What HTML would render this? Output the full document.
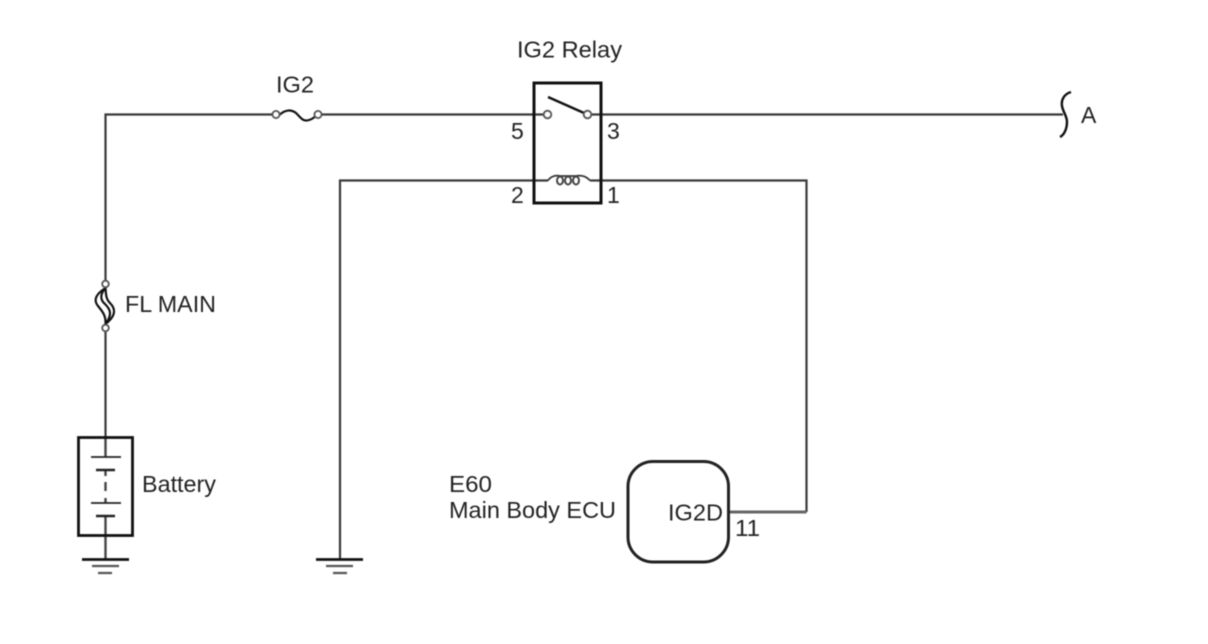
<!DOCTYPE html>
<html>
<head>
<meta charset="utf-8">
<style>
html,body{margin:0;padding:0;background:#fff;width:1208px;height:644px;overflow:hidden}
svg{display:block;filter:blur(0.45px)}
text{font-family:"Liberation Sans",sans-serif;font-size:23px;fill:#222}
</style>
</head>
<body>
<svg width="1208" height="644" viewBox="0 0 1208 644" xmlns="http://www.w3.org/2000/svg">
<g fill="none" stroke="#3a3a3a" stroke-width="2.2">
  <!-- main wires -->
  <path d="M105.5 280V114.5H273"/>
  <path d="M321 114.5H544"/>
  <path d="M591 114.5H1063"/>
  <path d="M105.5 332V437"/>
  <path d="M340 559V180.5H548"/>
  <path d="M590 180.5H806.5V512"/>
  <path d="M729 512H806.5" stroke="#666" stroke-width="3"/>
  <!-- battery inner wire -->
  <path d="M105.5 437V457M105.5 470V476M105.5 482V491M105.5 498V503M105.5 516V559" stroke="#444" stroke-width="2.4"/>
</g>
<!-- battery -->
<rect x="78.5" y="437.5" width="54" height="98" fill="none" stroke="#111" stroke-width="2.8"/>
<g stroke="#222" fill="none">
  <path d="M91 457H121" stroke-width="1.8"/>
  <path d="M96 470H115" stroke-width="2.6"/>
  <path d="M91 503H121" stroke-width="1.8"/>
  <path d="M96 516H115" stroke-width="2.6"/>
</g>
<!-- grounds -->
<g fill="none">
  <path d="M82 559.5H129M316 559.5H363" stroke="#111" stroke-width="2.8"/>
  <path d="M92 566H119M326 566H353" stroke="#555" stroke-width="2.2"/>
  <path d="M98 573H112M333 573H347" stroke="#555" stroke-width="2.2"/>
</g>
<!-- FL MAIN fuse -->
<g fill="none" stroke="#111" stroke-width="2.2">
  <path d="M105.5 288C96 294 93 300 98 306C103 312 106 316 105.5 324"/>
  <path d="M105.5 288C100 294 100 300 105 304C110 309 113 314 105.5 324"/>
  <path d="M105.5 288C106 295 106 299 110 303C116 309 116 316 105.5 324"/>
</g>
<g fill="#fff" stroke="#555" stroke-width="1.8">
  <circle cx="105.5" cy="284" r="3.3"/>
  <circle cx="105.5" cy="328" r="3.3"/>
</g>
<!-- IG2 fuse -->
<path d="M280 114.5C285 110 291 109 296 113C301 118 303 122 309 120C313 119 315 117 317 114.5" fill="none" stroke="#111" stroke-width="2.2"/>
<g fill="#fff" stroke="#555" stroke-width="1.8">
  <circle cx="276" cy="114.5" r="3.6"/>
  <circle cx="318" cy="114.5" r="3.6"/>
</g>
<!-- relay -->
<rect x="534" y="83" width="67" height="120" fill="none" stroke="#111" stroke-width="3"/>
<path d="M548 97L584 113" stroke="#111" stroke-width="2.4" fill="none"/>
<g fill="#fff" stroke="#555" stroke-width="1.8">
  <circle cx="547.5" cy="114.5" r="3.8"/>
  <circle cx="587.5" cy="114.5" r="3.8"/>
</g>
<path d="M548 180.5C551 176 556 175 560 176H576C581 175 586 176 590 180.5" fill="none" stroke="#333" stroke-width="1.8"/>
<g fill="none" stroke="#444" stroke-width="2">
  <ellipse cx="560" cy="180.5" rx="3" ry="4"/>
  <ellipse cx="568" cy="180.5" rx="3" ry="4"/>
  <ellipse cx="576" cy="180.5" rx="3" ry="4"/>
</g>
<!-- A break -->
<path d="M1071 92C1064 94 1061 100 1062 106C1063 112 1067 116 1067 122C1067 129 1064 135 1060 137" fill="none" stroke="#111" stroke-width="2.4"/>
<!-- ECU -->
<rect x="628" y="461.5" width="100.5" height="100.5" rx="25" ry="25" fill="#fff" stroke="#222" stroke-width="3"/>
<!-- labels -->
<text x="517" y="57.500" textLength="105" lengthAdjust="spacingAndGlyphs">IG2 Relay</text>
<text x="276" y="92.500" textLength="38" lengthAdjust="spacingAndGlyphs">IG2</text>
<text x="511" y="139">5</text>
<text x="607" y="139">3</text>
<text x="511" y="203">2</text>
<text x="607" y="203">1</text>
<text x="1081" y="123">A</text>
<text x="125" y="312" textLength="91" lengthAdjust="spacingAndGlyphs">FL MAIN</text>
<text x="142" y="492" textLength="74" lengthAdjust="spacingAndGlyphs">Battery</text>
<text x="449" y="492" textLength="43" lengthAdjust="spacingAndGlyphs">E60</text>
<text x="449" y="518" textLength="167" lengthAdjust="spacingAndGlyphs">Main Body ECU</text>
<text x="668" y="520.500" textLength="55" lengthAdjust="spacingAndGlyphs">IG2D</text>
<text x="735" y="536" textLength="25" lengthAdjust="spacingAndGlyphs">11</text>
</svg>
</body>
</html>
